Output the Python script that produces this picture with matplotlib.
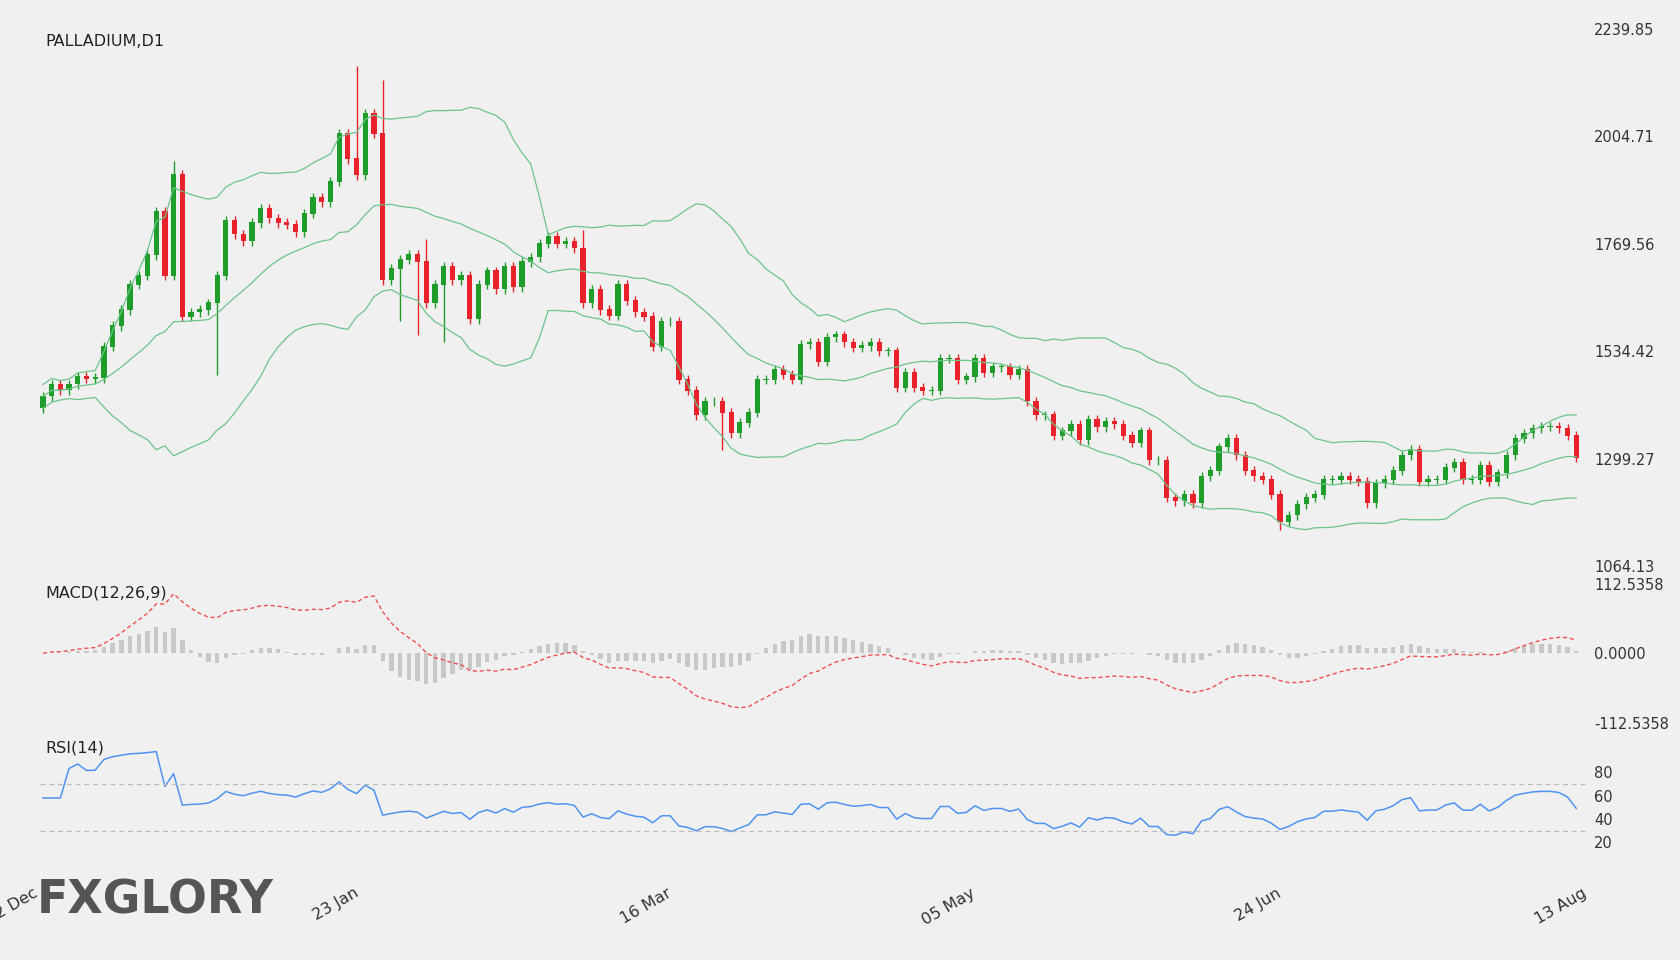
import matplotlib
matplotlib.use("Agg")
import matplotlib.pyplot as plt
import numpy as np
import pandas as pd

closes = [1436,1462,1450,1462,1480,1475,1476,1545,1590,1625,1680,1700,1745,1840,1700,1920,1610,1620,1625,1640,
          1700,1820,1790,1775,1815,1846,1825,1815,1811,1795,1835,1870,1860,1905,2010,1955,1920,2055,2010,1690,
          1715,1735,1745,1730,1640,1680,1720,1690,1700,1605,1680,1710,1670,1720,1675,1730,1740,1770,1785,1770,
          1775,1760,1640,1670,1625,1612,1680,1645,1620,1610,1545,1600,1600,1472,1448,1395,1425,1425,1400,1355,
          1378,1400,1472,1472,1495,1483,1472,1550,1554,1512,1565,1570,1554,1542,1546,1554,1535,1535,1455,1488,
          1455,1448,1448,1518,1518,1472,1478,1518,1488,1500,1500,1483,1495,1425,1395,1395,1350,1360,1375,1340,
          1385,1368,1380,1375,1350,1335,1360,1296,1296,1214,1207,1221,1202,1261,1273,1325,1343,1307,1273,1261,
          1254,1221,1162,1176,1200,1214,1221,1254,1254,1261,1254,1249,1202,1246,1254,1273,1307,1319,1249,1254,
          1254,1280,1292,1254,1254,1284,1249,1268,1307,1343,1355,1366,1370,1370,1366,1350,1302]
first_open = 1410
spike_high = {15: 1950, 36: 2158, 39: 2127, 44: 1780, 62: 1800}
spike_low = {20: 1483, 41: 1600, 46: 1554, 78: 1319, 142: 1144, 43: 1570}
date_labels = ["02 Dec", "23 Jan", "16 Mar", "05 May", "24 Jun", "13 Aug"]
date_frac = [0.0, 0.2075, 0.409, 0.605, 0.803, 1.0]
price_ticks = [1064.13, 1299.27, 1534.42, 1769.56, 2004.71, 2239.85]

c = np.array(closes, float)
o = np.concatenate([[first_open], c[:-1]])
n = len(c)
h = np.maximum(o, c) + 10
l = np.minimum(o, c) - 10
for k, v in spike_high.items(): h[k] = v
for k, v in spike_low.items(): l[k] = v

s = pd.Series(c)
mid = s.rolling(20, min_periods=1).mean()
sd = s.rolling(20, min_periods=2).std(ddof=0).bfill()
up, lo = mid + 2*sd, mid - 2*sd
ema12 = s.ewm(span=12, adjust=False).mean(); ema26 = s.ewm(span=26, adjust=False).mean()
macd = ema12 - ema26
sig = macd.rolling(9, min_periods=1).mean()
hist = macd - sig
d = s.diff()
d.iloc[0] = d.iloc[1]
ag = d.clip(lower=0).ewm(alpha=1/14, adjust=True).mean()
al = (-d.clip(upper=0)).ewm(alpha=1/14, adjust=True).mean()
rsi = 100 - 100/(1 + ag/(al+1e-9))
rsi.iloc[:3] = 58

bg = "#f0f0f0"
fig = plt.figure(figsize=(16.8, 9.6), dpi=100, facecolor=bg)
x0, w = 0.024, 0.922
ax1 = fig.add_axes([x0, 0.410, w, 0.560])
ax2 = fig.add_axes([x0, 0.247, w, 0.145], sharex=ax1)
ax3 = fig.add_axes([x0, 0.098, w, 0.122], sharex=ax1)
for a in (ax1, ax2, ax3):
    a.set_facecolor(bg)
    for sp in a.spines.values(): sp.set_visible(False)
    a.yaxis.tick_right()
    a.tick_params(length=0, labelsize=10.5, colors="#333333")
    a.tick_params(axis="x", labelbottom=False)

x = np.arange(n)
green, red = "#1f9d2a", "#e8212b"
cols = [green if cc >= oo else red for oo, cc in zip(o, c)]
ax1.vlines(x, l, h, colors=cols, linewidth=1)
ax1.bar(x, np.abs(c-o)+1.5, bottom=np.minimum(o, c), width=0.6, color=cols)
for band in (up, mid, lo):
    ax1.plot(x, band, color="#6cc48a", lw=0.9)
ax1.set_ylim(price_ticks[0], price_ticks[-1])
ax1.set_yticks(price_ticks)
ax1.set_yticklabels([f"{t:.2f}" for t in price_ticks])
ax1.text(0.003, 0.99, "PALLADIUM,D1", transform=ax1.transAxes, fontsize=11.5, color="#222222", va="top")

ax2.bar(x, hist, width=0.5, color="#c8c8c8")
ax2.plot(x, macd, color="#f05050", lw=1, ls=(0, (3, 2)))
ax2.set_ylim(-112.5358, 112.5358)
ax2.set_yticks([-112.5358, 0, 112.5358])
ax2.set_yticklabels(["-112.5358", "0.0000", "112.5358"])
ax2.text(0.003, 0.99, "MACD(12,26,9)", transform=ax2.transAxes, fontsize=11.5, color="#222222", va="top")

ax3.plot(x, rsi, color="#4f93f0", lw=1.1)
for lv in (30, 70):
    ax3.axhline(lv, color="#bbbbbb", lw=0.9, ls=(0, (4, 3)))
ax3.set_ylim(0, 100)
ax3.set_yticks([20, 40, 60, 80])
ax3.text(0.003, 1.07, "RSI(14)", transform=ax3.transAxes, fontsize=11.5, color="#222222", va="top")

xmax = n - 1 + 1.5
ax1.set_xlim(-0.3, xmax)
ax3.set_xticks([-0.3 + f*(xmax+0.3) for f in date_frac])
ax3.set_xticklabels(date_labels)
ax3.tick_params(axis="x", labelbottom=True, labelrotation=30, pad=14)
for t in ax3.get_xticklabels():
    t.set_ha("right"); t.set_fontsize(11.5)

fig.text(0.022, 0.048, "FXGLORY", fontsize=33, fontweight="bold", color="#555555")
fig.savefig("out.png", dpi=100, facecolor=bg)
